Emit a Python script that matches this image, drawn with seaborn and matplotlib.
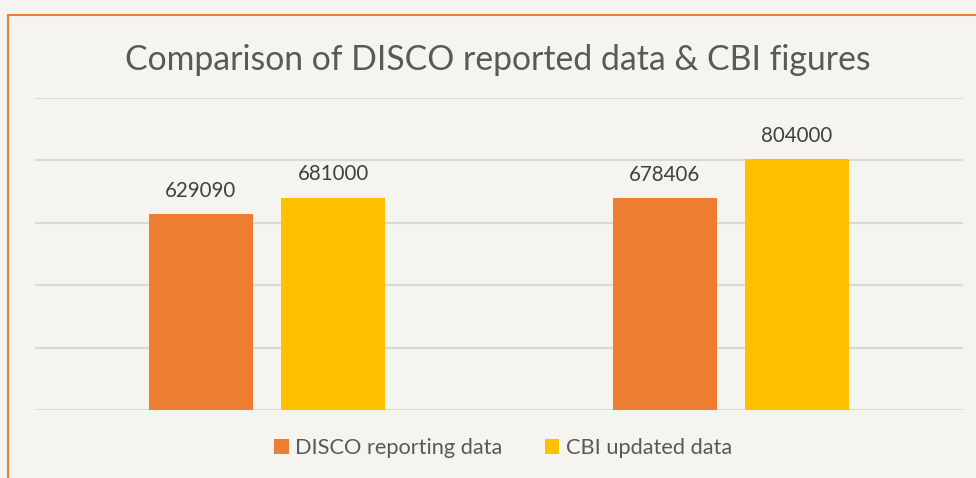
import numpy as np
import pandas as pd
import seaborn as sns
from matplotlib import pyplot as plt
from matplotlib.patches import Rectangle

# data
groups = ["Group 1", "Group 2"]
series = ["DISCO reporting data", "CBI updated data"]
disco_values = [629090, 678406]
cbi_values = [681000, 804000]
colors = ["#ED7D31", "#FFC000"]

df = pd.DataFrame({
    "group": groups * 2,
    "series": [series[0]] * 2 + [series[1]] * 2,
    "value": disco_values + cbi_values,
})

bg = "#F5F4EF"
text_col = "#595959"

sns.set_style("white")
plt.rcParams["font.family"] = ["Lato", "DejaVu Sans"]

fig = plt.figure(figsize=(9.76, 4.78), dpi=100, facecolor=bg)
ax = fig.add_axes([35 / 976, 68 / 478, 928 / 976, 312 / 478])
ax.set_facecolor(bg)

sns.barplot(data=df, x="group", y="value", hue="series", palette=colors,
            width=0.569, gap=0.212, saturation=1, linewidth=0, ax=ax, zorder=3)

ax.set_ylim(0, 1000000)
ax.set_yticks(np.arange(0, 1000001, 200000))
ax.yaxis.grid(True, color="#D9D9D9", linewidth=1.5, zorder=0)
ax.set_xticklabels([])
ax.set_yticklabels([])
ax.tick_params(length=0)
ax.set_xlabel("")
ax.set_ylabel("")
for s in ax.spines.values():
    s.set_visible(False)

for cont in ax.containers:
    ax.bar_label(cont, fmt="%d", padding=9.5, fontsize=14.8, color="#404040")

handles, labels = ax.get_legend_handles_labels()
ax.get_legend().remove()
fig.legend(handles, labels, loc="center", bbox_to_anchor=(503 / 976, 30 / 478),
           ncol=2, frameon=False, fontsize=15.7, labelcolor=text_col,
           handlelength=0.65, handleheight=0.65, handletextpad=0.3, columnspacing=1.95)

fig.text(498 / 976, 1 - 60 / 478, "Comparison of DISCO reported data & CBI figures",
         ha="center", va="center", fontsize=24.3, color=text_col)

# orange chart border (cropped on right and bottom)
fig.patches.append(Rectangle((7.5 / 976, -0.1), 1.2, 1 - 15 / 478 + 0.1,
                             transform=fig.transFigure, fill=False,
                             edgecolor="#ED7D31", linewidth=1.5))

fig.savefig("out.png", dpi=100, facecolor=bg)
